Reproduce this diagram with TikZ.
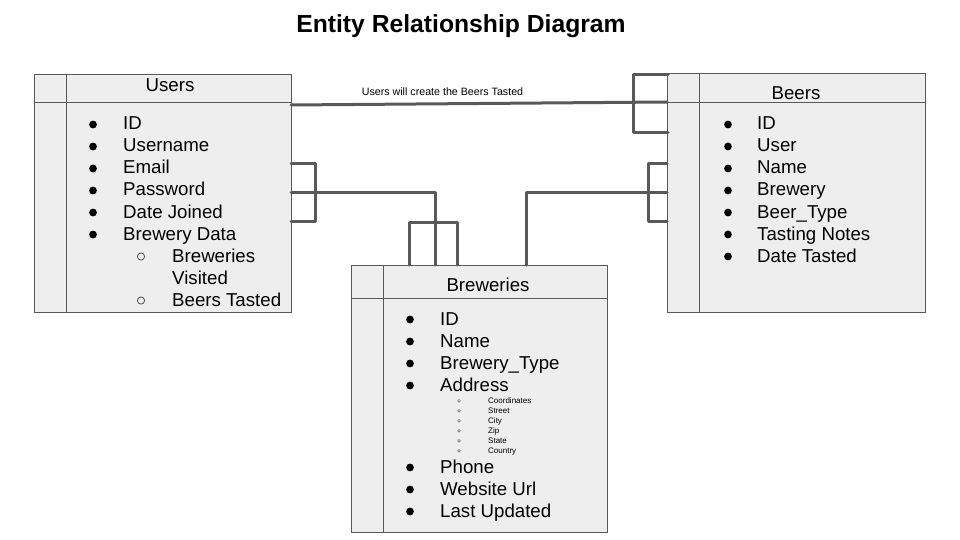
\documentclass[tikz,border=0pt]{standalone}
\usepackage{fontspec}
\setmainfont{Liberation Sans}
\usetikzlibrary{calc}
\definecolor{boxfill}{HTML}{EEEEEE}
\definecolor{boxline}{HTML}{595959}
\definecolor{conn}{HTML}{595959}
\tikzset{
  entity/.style={draw=boxline, line width=1pt, fill=boxfill, anchor=north west, inner sep=0pt},
  sepline/.style={draw=boxline, line width=1pt},
  item/.style={anchor=base west, inner sep=0pt, font=\fontsize{18.67}{20}\selectfont},
  head/.style={anchor=base, inner sep=0pt, font=\fontsize{18.67}{20}\selectfont},
  tiny/.style={anchor=base west, inner sep=0pt, font=\fontsize{8}{9}\selectfont},
  conn/.style={draw=conn, line width=3pt, line cap=round, line join=round},
  dotb/.style={fill=black, draw=none},
  ringb/.style={draw=black!70, line width=0.8pt, fill=none},
}
\begin{document}
\begin{tikzpicture}[x=1pt,y=-1pt]
\useasboundingbox (0,0) rectangle (960,540);
\fill[white] (0,0) rectangle (960,540);

% Title
\node[anchor=base, inner sep=0pt, font=\fontsize{24.7}{26}\selectfont\bfseries] (title) at (461,33) {Entity Relationship Diagram};

% Users
\node[entity, minimum width=257pt, minimum height=238pt] (users) at (34,74) {};
\draw[sepline] (34,103) -- (291,103);
\draw[sepline] (66,74) -- (66,312);
\node[head] (usershead) at (170,91.7) {Users};
\foreach \t [count=\i] in {ID,Username,Email,Password,Date Joined,Brewery Data}{
  \fill[dotb] (93,{130+22*(\i-1)-5.5}) circle (3.9);
  \node[item] (u\i) at (123,{130+22*(\i-1)}) {\t};
}
\draw[ringb] (141,256.5) circle (3.6);
\node[item] (u7) at (172,262) {Breweries};
\node[item] (u8) at (172,284) {Visited};
\draw[ringb] (141,300.5) circle (3.6);
\node[item] (u9) at (172,306) {Beers Tasted};

% Beers
\node[entity, minimum width=258pt, minimum height=239pt] (beers) at (667,73) {};
\draw[sepline] (667,103) -- (925,103);
\draw[sepline] (699,73) -- (699,312);
\node[head] (beershead) at (796,100) {Beers};
\foreach \t [count=\i] in {ID,User,Name,Brewery,Beer\_Type,Tasting Notes,Date Tasted}{
  \fill[dotb] (728,{130+22*(\i-1)-5.5}) circle (3.9);
  \node[item] (b\i) at (757,{130+22*(\i-1)}) {\t};
}

% Breweries
\node[entity, minimum width=256pt, minimum height=267pt] (brew) at (351,265) {};
\draw[sepline] (351,298) -- (607,298);
\draw[sepline] (383,265) -- (383,532);
\node[head] (brewhead) at (488,291.7) {Breweries};
\foreach \t [count=\i] in {ID,Name,Brewery\_Type,Address}{
  \fill[dotb] (410,{325+22*(\i-1)-5.5}) circle (3.9);
  \node[item] (r\i) at (440,{325+22*(\i-1)}) {\t};
}
\foreach \t [count=\i] in {Coordinates,Street,City,Zip,State,Country}{
  \draw[black!60, line width=0.5pt] (459,{403.3+10*(\i-1)-2.5}) circle (1.4);
  \node[tiny] (s\i) at (488,{403.3+10*(\i-1)}) {\t};
}
\foreach \t [count=\i] in {Phone,Website Url,Last Updated}{
  \fill[dotb] (410,{473+22*(\i-1)-5.5}) circle (3.9);
  \node[item] (p\i) at (440,{473+22*(\i-1)}) {\t};
}

% Connector coordinates
\coordinate (ub) at (291,105);
\coordinate (bu) at (667,102);
\coordinate (buT) at (668,75);
\coordinate (buB) at (668,133);
\coordinate (buVT) at (633,75);
\coordinate (buVB) at (633,133);

\coordinate (urT) at (291,164);
\coordinate (urM) at (291,192);
\coordinate (urB) at (291,221);
\coordinate (urVT) at (315,164);
\coordinate (urVB) at (315,221);
\coordinate (urK) at (435,192);
\coordinate (ru) at (435,265);
\coordinate (ruL) at (409,265);
\coordinate (ruR) at (457,265);
\coordinate (ruLT) at (409,222);
\coordinate (ruRT) at (457,222);

\coordinate (brT) at (667,164);
\coordinate (brM) at (667,192);
\coordinate (brB) at (667,221);
\coordinate (brVT) at (648,164);
\coordinate (brVB) at (648,221);
\coordinate (brK) at (526,192);
\coordinate (rb) at (526,265);

% Users -- Beers
\draw[conn] (ub) -- (bu);
\draw[conn] (buT) -- (buVT) -- (buVB) -- (buB);
\node[anchor=base, inner sep=0pt, font=\fontsize{10.67}{12}\selectfont] (lbl) at (442.5,95.7) {Users will create the Beers Tasted};

% Users -- Breweries
\draw[conn] (urT) -- (urVT) -- (urVB) -- (urB);
\draw[conn] (urM) -- (urK) -- (ru);
\draw[conn] (ruL) -- (ruLT) -- (ruRT) -- (ruR);

% Beers -- Breweries
\draw[conn] (brT) -- (brVT) -- (brVB) -- (brB);
\draw[conn] (brM) -- (brK) -- (rb);
\end{tikzpicture}
\end{document}
